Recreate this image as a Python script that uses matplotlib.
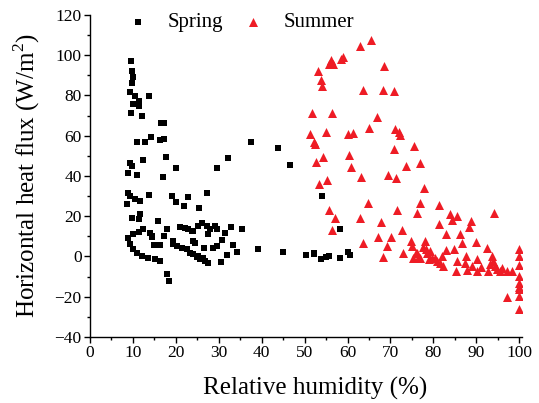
import matplotlib
matplotlib.use("Agg")
import matplotlib.pyplot as plt
from matplotlib.ticker import MultipleLocator

plt.rcParams['font.family'] = ['Liberation Serif', 'DejaVu Serif']
plt.rcParams['mathtext.fontset'] = 'custom'
plt.rcParams['mathtext.rm'] = 'Liberation Serif'

spring_rh = [9.6, 9.7, 9.9, 9.8, 9.3, 10.5, 13.8, 11.3, 10.1, 11.4, 9.6, 12.0, 16.5, 17.2,
             11.0, 12.8, 14.1, 16.3, 17.2, 37.5, 43.7, 46.5, 32.2, 29.5, 20.0, 17.6, 12.4,
             9.3, 9.7, 8.9, 11.0, 17.1, 8.8, 9.3, 10.5, 11.7, 8.6, 13.7, 19.0, 20.0, 21.8,
             22.9, 25.3, 27.2, 9.7, 11.7, 11.3, 15.8, 8.8, 10.1, 11.3, 12.4, 14.0, 14.4,
             9.3, 10.1, 10.9, 12.0, 13.6, 15.2, 16.3, 14.8, 16.3, 17.2, 18.0, 18.0, 18.5,
             19.4, 21.0, 22.1, 22.9, 24.1, 21.4, 22.5, 23.3, 24.1, 25.2, 26.4, 27.6, 24.5,
             25.2, 26.0, 27.2, 28.0, 29.1, 29.5, 27.6, 26.6, 28.7, 29.5, 30.8, 31.9, 30.5,
             31.5, 32.8, 33.4, 34.2, 35.5, 39.2, 45.0, 50.3, 52.1, 54.0, 58.3, 52.2, 53.8,
             55.8, 58.3, 60.2, 60.6, 55.0, 20.2, 24.9, 25.6, 26.8, 23.7, 19.4, 24.1, 14.4]
spring_flux = [97.1, 92.1, 89.3, 86.3, 81.6, 79.7, 79.5, 77.2, 75.5, 74.7, 71.4, 69.7, 66.4, 66.4,
               57.0, 57.0, 59.3, 57.8, 58.5, 57.0, 53.8, 45.4, 49.0, 44.1, 44.1, 49.5, 48.0,
               46.2, 44.9, 41.2, 40.7, 39.6, 31.3, 30.0, 28.7, 27.5, 25.8, 30.5, 30.0, 27.2, 25.0,
               29.3, 24.2, 31.3, 19.2, 20.9, 18.4, 17.5, 9.3, 10.9, 12.1, 13.4, 11.8, 9.8,
               6.0, 3.5, 1.5, 0.2, -0.7, -1.5, -2.3, 5.5, 5.6, 10.1, 13.8, -8.9, -12.3,
               6.0, 14.7, 14.2, 13.4, 12.6, 4.3, 3.5, 1.8, 1.0, 0.2, -0.7, -3.1, 6.8,
               15.1, 16.7, 15.1, 13.4, 15.1, 13.4, 10.9, 4.3, 4.3, 5.1, 8.1, 0.5, -2.8,
               11.8, 14.7, 5.5, 2.3, 13.4, 3.5, 2.3, 0.5, 1.3, 30.0, 13.4, 1.5, -1.2,
               0.2, -0.7, 2.3, 0.6, -0.5, 5.1, -0.2, -1.5, -2.3, 12.6, 7.6, 7.6, 10.1]

summer_rh = [65.5, 62.9, 59.0, 58.5, 56.1, 56.7, 55.6, 68.5, 53.2, 53.8, 54.0, 63.5, 68.2, 70.9,
             51.7, 56.5, 66.8, 65.0, 51.3, 55.0, 60.0, 61.2, 71.1, 71.9, 72.3, 52.4, 52.1,
             70.9, 75.6, 60.4, 54.2, 52.7, 60.8, 73.7, 76.8, 63.2, 69.5, 71.3, 55.2, 53.4,
             77.9, 64.7, 76.9, 71.6, 76.1, 81.4, 55.8, 57.0, 62.9, 67.8, 56.3, 72.7,
             83.9, 85.5, 84.4, 81.4, 88.8, 88.4, 82.9, 94.2, 67.2, 70.1, 69.2, 63.7, 68.2, 73.0,
             74.8, 75.0, 76.0, 76.4, 78.1, 78.3, 78.6, 79.3, 78.9, 80.4, 80.8, 82.0, 82.3, 81.6,
             86.2, 86.6, 84.7, 85.5, 87.6, 87.4, 85.3, 87.8, 88.9, 90.1, 89.9, 92.5, 90.1,
             93.6, 93.9, 93.2, 94.4, 94.8, 95.6, 92.8, 97.1, 98.3,
             100.0, 100.0, 100.0, 100.0, 100.0, 100.0, 100.0, 100.0, 100.0, 97.1,
             76.1, 75.3, 76.9, 77.5, 79.8, 83.0, 91.0, 96.0]
summer_flux = [107.5, 104.5, 99.2, 98.2, 97.4, 95.4, 95.4, 94.6, 92.1, 87.6, 84.6, 82.6, 82.6, 82.0,
               71.4, 71.4, 69.4, 63.6, 61.0, 61.8, 61.0, 61.1, 63.1, 62.0, 60.1, 55.7, 56.8,
               53.5, 54.8, 50.2, 49.5, 46.9, 44.4, 44.9, 46.2, 39.4, 40.4, 39.1, 37.9, 35.8,
               34.1, 26.3, 26.6, 23.0, 21.7, 25.3, 23.0, 19.2, 18.9, 17.0, 13.1, 13.1,
               20.9, 20.0, 18.0, 15.9, 17.5, 14.6, 10.9, 21.7, 9.8, 9.6, 5.1, 6.5, -0.2, 1.8,
               7.6, 5.1, 1.8, -0.7, 7.6, 3.8, 1.8, 2.6, -1.2, -0.7, -2.3, 0.2, -4.8, -3.1,
               10.9, 6.8, 3.8, -2.3, 0.2, -3.1, -7.3, -7.0, -4.8, -1.5, 7.1, 4.3, -7.3,
               0.2, -2.3, -4.0, -4.8, -6.5, -7.3, -7.3, -7.3, -7.3,
               3.8, 0.2, -4.3, -9.8, -13.1, -15.1, -16.4, -19.7, -26.0, -20.2,
               1.8, -0.7, -0.7, 4.5, -1.0, 3.0, -5.5, -6.0]

x_ticks = [0, 10, 20, 30, 40, 50, 60, 70, 80, 90, 100]
y_ticks = [-40, -20, 0, 20, 40, 60, 80, 100, 120]

fig = plt.figure(figsize=(5.39, 4.03), dpi=100)
ax = fig.add_axes([0.167, 0.164, 0.801, 0.799])

ax.scatter(spring_rh, spring_flux, marker='s', s=22, color='black', linewidths=0,
           label='Spring', zorder=3)
ax.scatter(summer_rh, summer_flux, marker='^', s=42, color='#ee1c25', linewidths=0,
           label='Summer', zorder=3)

ax.set_xlim(0, 100.6)
ax.set_ylim(-40, 120)
ax.set_xticks(x_ticks)
ax.set_yticks(y_ticks)
ax.xaxis.set_minor_locator(MultipleLocator(5))
ax.yaxis.set_minor_locator(MultipleLocator(10))
ax.tick_params(which='major', direction='out', length=4, width=1, labelsize=12.5, pad=2)
ax.tick_params(which='minor', direction='out', length=2, width=1)
for s in ['top', 'right']:
    ax.spines[s].set_visible(False)
for s in ['left', 'bottom']:
    ax.spines[s].set_linewidth(1)

ax.set_xlabel('Relative humidity (%)', fontsize=18, labelpad=11.5)
ax.xaxis.label.set_x(0.522)
ax.set_ylabel('Horizontal heat flux (W/m$^2$)', fontsize=18, labelpad=9)

ax.legend(loc='upper left', bbox_to_anchor=(0.2367, 0.969), bbox_transform=fig.transFigure,
          ncol=2, frameon=False, fontsize=15, handlelength=1.0, handletextpad=0.94,
          columnspacing=0.94, markerscale=1.0, borderaxespad=0, borderpad=0)

fig.savefig('out.png', dpi=100)
